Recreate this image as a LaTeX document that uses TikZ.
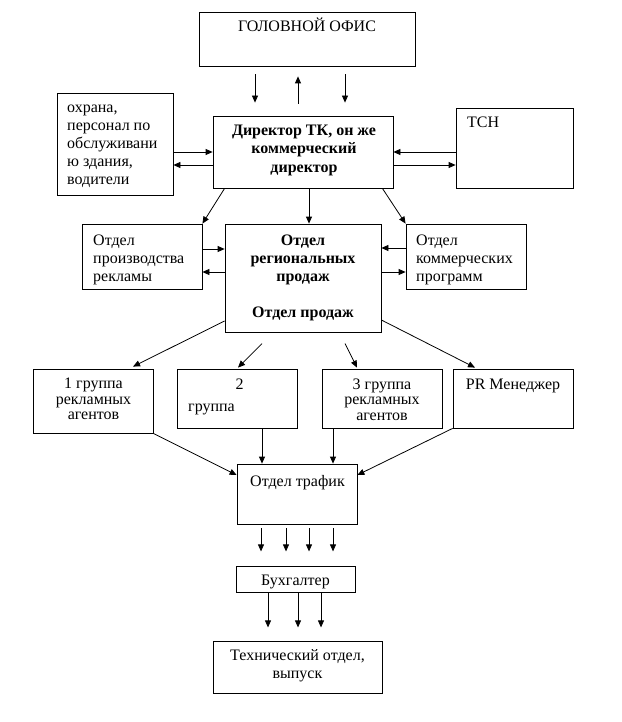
\documentclass[tikz,border=0pt]{standalone}
\usepackage{fontspec}
\setmainfont{Liberation Serif}
\usetikzlibrary{arrows.meta,calc}
\newcommand\lns[2]{\begin{tabular}[t]{@{}#1@{}}#2\end{tabular}}
\tikzset{
  box/.style={draw, line width=0.8pt, inner sep=0pt},
  txt/.style={inner sep=0pt, font=\fontsize{16}{18}\selectfont},
  btxt/.style={inner sep=0pt, font=\fontsize{16}{18}\selectfont\bfseries},
  gtxt/.style={inner sep=0pt, font=\fontsize{16}{15.5}\selectfont},
  arr/.style={-{Triangle[length=7pt,width=6pt]}, line width=0.8pt},
}
\begin{document}
\begin{tikzpicture}[x=1pt,y=-1pt]
\useasboundingbox (0,0) rectangle (621,722);
\fill[white] (0,0) rectangle (621,722);

% boxes
\node[box, minimum width=216pt, minimum height=54pt] (ho) at (307,39) {};
\node[txt, anchor=base] (hot) at (307,32) {ГОЛОВНОЙ ОФИС};

\node[box, minimum width=180pt, minimum height=72pt] (dir) at (303,152) {};
\node[btxt, anchor=base] (dirt) at (304,136) {\lns{c}{Директор ТК, он же\\коммерческий\\директор}};

\node[box, minimum width=116pt, minimum height=102pt] (guard) at (115,144) {};
\node[txt, anchor=base west] (guardt) at (67,113) {\lns{l}{охрана,\\персонал по\\обслуживани\\ю здания,\\водители}};

\node[box, minimum width=117pt, minimum height=80pt] (tsn) at (514.5,148) {};
\node[txt, anchor=base west] (tsnt) at (467,128) {ТСН};

\node[box, minimum width=120pt, minimum height=65pt] (adp) at (142,256.5) {};
\node[txt, anchor=base west] (adpt) at (93,245.5) {\lns{l}{Отдел\\производства\\рекламы}};

\node[box, minimum width=156pt, minimum height=108pt] (reg) at (303,278) {};
\node[btxt, anchor=base] (regt) at (303,245.5) {\lns{c}{Отдел\\региональных\\продаж\\ \\Отдел продаж}};

\node[box, minimum width=120pt, minimum height=65pt] (com) at (466,256.5) {};
\node[txt, anchor=base west] (comt) at (416,245.5) {\lns{l}{Отдел\\коммерческих\\программ}};

\node[box, minimum width=120pt, minimum height=64pt] (g1) at (93,401) {};
\node[gtxt, anchor=base] (g1t) at (93.5,388.5) {\lns{c}{1 группа\\рекламных\\агентов}};

\node[box, minimum width=120pt, minimum height=59pt] (g2) at (237,398.5) {};
\node[txt, anchor=base] (g2a) at (239.5,389) {2};
\node[txt, anchor=base west] (g2b) at (188,411) {группа};

\node[box, minimum width=120pt, minimum height=59pt] (g3) at (382,398.5) {};
\node[gtxt, anchor=base] (g3t) at (382,389) {\lns{c}{3 группа\\рекламных\\агентов}};

\node[box, minimum width=120pt, minimum height=59pt] (pr) at (513,398.5) {};
\node[txt, anchor=base] (prt) at (513,389) {PR Менеджер};

\node[box, minimum width=120pt, minimum height=60pt] (trf) at (297,494) {};
\node[txt, anchor=base] (trft) at (297.5,486) {Отдел трафик};

\node[box, minimum width=119pt, minimum height=26pt] (bk) at (295.5,579) {};
\node[txt, anchor=base] (bkt) at (295.5,585) {Бухгалтер};

\node[box, minimum width=169pt, minimum height=52pt] (tech) at (297.5,667) {};
\node[txt, anchor=base] (techt) at (297.5,660) {\lns{c}{Технический отдел,\\выпуск}};

% head office <-> director
\draw[arr] ($(ho.south)+(-52,8)$) -- ($(dir.north)+(-48,-13)$);
\draw[arr] ($(dir.north)+(-5,-12)$) -- ($(ho.south)+(-9,10)$);
\draw[arr] ($(ho.south)+(38,8)$) -- ($(dir.north)+(42,-13)$);

% guard <-> director
\draw[arr] ($(guard.east)+(0,8)$) -- (dir.west);
\draw[arr] ($(dir.west)+(0,13)$) -- ($(guard.east)+(0,21)$);

% TSN <-> director
\draw[arr] ($(tsn.west)+(0,4)$) -- (dir.east);
\draw[arr] ($(dir.east)+(0,13)$) -- ($(tsn.west)+(0,17)$);

% director -> departments
\draw[arr] ($(dir.south west)+(12,0)$) -- (adp.north east);
\draw[arr] ($(dir.south)+(6,0)$) -- ($(reg.north)+(6,0)$);
\draw[arr] ($(dir.south east)+(-11,0)$) -- (com.north west);

% adp <-> reg
\draw[arr] ($(adp.east)+(0,-7.5)$) -- ($(reg.west)+(0,-29)$);
\draw[arr] ($(reg.west)+(0,-6)$) -- ($(adp.east)+(0,15.5)$);
% com <-> reg
\draw[arr] ($(com.west)+(0,-8.5)$) -- ($(reg.east)+(0,-30)$);
\draw[arr] ($(reg.east)+(0,-6)$) -- ($(com.west)+(0,15.5)$);

% reg -> groups
\draw[arr] ($(reg.west)+(0,43)$) -- ($(g1.north)+(40,-2)$);
\draw[arr] ($(g2.north)+(25,-25)$) -- ($(g2.north)+(1,-1)$);
\draw[arr] ($(g3.north)+(-37,-25)$) -- ($(g3.north)+(-25,-1)$);
\draw[arr] ($(reg.east)+(0,42)$) -- ($(pr.north)+(-38,-1)$);

% groups -> traffic
\draw[arr] (g1.south east) -- ($(trf.west)+(0,-19)$);
\draw[arr] ($(g2.south)+(25,0)$) -- ($(trf.north)+(-35,0)$);
\draw[arr] ($(g3.south)+(-49,0)$) -- ($(trf.north)+(36,0)$);
\draw[arr] (pr.south west) -- ($(trf.east)+(0,-19)$);

% traffic -> accountant
\foreach \dx in {-36,-11,12,36}
  \draw[arr] ($(trf.south)+(\dx,4)$) -- ++(0,23);

% accountant -> tech
\foreach \dx in {-27.5,2.5,25.5}
  \draw[arr] ($(bk.south)+(\dx,0)$) -- ++(0,35);
\end{tikzpicture}
\end{document}
